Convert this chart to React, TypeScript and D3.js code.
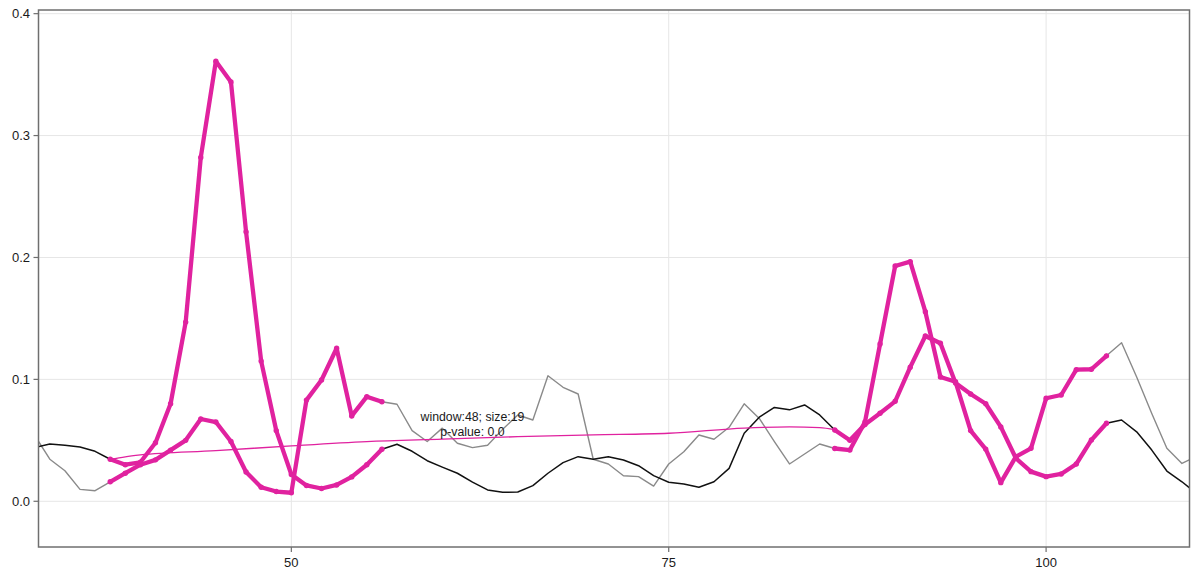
import React, { useEffect, useRef } from 'react';
import * as d3 from 'd3';

// x positions of both series
const steps = d3.range(33, 111);

const blackSeries = [
  0.044, 0.047, 0.046, 0.0445, 0.041, 0.0345, 0.030, 0.032, 0.048, 0.080,
  0.147, 0.282, 0.361, 0.344, 0.221, 0.115, 0.058, 0.022, 0.013, 0.0105,
  0.0134, 0.020, 0.030, 0.0427, 0.0468, 0.041, 0.0333, 0.028, 0.023, 0.0157,
  0.0093, 0.0074, 0.0076, 0.0128, 0.023, 0.0317, 0.0366, 0.0345, 0.0366, 0.0339,
  0.0292, 0.021, 0.0156, 0.0142, 0.0115, 0.016, 0.027, 0.0558, 0.069, 0.077,
  0.075, 0.079, 0.0708, 0.0585, 0.050, 0.063, 0.0722, 0.082, 0.110, 0.1356,
  0.1296, 0.097, 0.088, 0.080, 0.061, 0.0353, 0.0243, 0.0202, 0.0224, 0.0306,
  0.0503, 0.064, 0.0667, 0.057, 0.042, 0.0248, 0.016, 0.006,
];

const graySeries = [
  0.054, 0.0345, 0.025, 0.0098, 0.0087, 0.016, 0.023, 0.030, 0.034, 0.042,
  0.050, 0.0675, 0.065, 0.049, 0.024, 0.0115, 0.008, 0.007, 0.083, 0.0995,
  0.1255, 0.070, 0.0858, 0.0817, 0.0796, 0.058, 0.049, 0.060, 0.0476, 0.044,
  0.046, 0.059, 0.0708, 0.0667, 0.103, 0.0935, 0.088, 0.0345, 0.0306, 0.021,
  0.0202, 0.0125, 0.0306, 0.0407, 0.0544, 0.0509, 0.0607, 0.080, 0.068, 0.049,
  0.0306, 0.0388, 0.047, 0.0433, 0.042, 0.065, 0.129, 0.193, 0.1966, 0.1555,
  0.102, 0.098, 0.058, 0.0428, 0.0153, 0.0366, 0.0435, 0.0845, 0.0872, 0.108,
  0.1083, 0.1193, 0.130, 0.102, 0.072, 0.0435, 0.031, 0.037,
];

// highlighted windows
const windowStarts = [38, 86];
const windowSize = 19;

// thin connector between the two windows
const linkX = [38, 39, 40, 45, 50, 55, 60, 65, 70, 75, 80, 83, 85, 86];
const linkY = [0.0345, 0.0365, 0.038, 0.0415, 0.0455, 0.049, 0.051, 0.053, 0.0545, 0.0558, 0.060, 0.061, 0.0605, 0.0588];

const annotation = ['window:48; size:19', 'p-value: 0.0'];

const xTicks = [50, 75, 100];
const yTicks = [0, 0.1, 0.2, 0.3, 0.4];

const W = 1200;
const H = 576;
const margin = { top: 10, right: 10.5, bottom: 29, left: 38.5 };

export default function App() {
  const ref = useRef<SVGSVGElement>(null);

  useEffect(() => {
    if (!ref.current) return;
    const svg = d3.select(ref.current);
    svg.selectAll('*').remove();

    const x = d3.scaleLinear().domain([33.25, 109.5]).range([margin.left, W - margin.right]);
    const y = d3.scaleLinear().domain([-0.0375, 0.403]).range([H - margin.bottom, margin.top]);
    const [x0, x1] = x.range();
    const [y0, y1] = y.range();

    svg.append('defs').append('clipPath').attr('id', 'plot-clip')
      .append('rect').attr('x', x0).attr('y', y1).attr('width', x1 - x0).attr('height', y0 - y1);

    // grid
    const grid = svg.append('g').attr('stroke', '#e6e6e6').attr('stroke-width', 1);
    xTicks.forEach(t => {
      grid.append('line').attr('x1', x(t)).attr('x2', x(t)).attr('y1', y1).attr('y2', y0);
    });
    yTicks.forEach(t => {
      grid.append('line').attr('x1', x0).attr('x2', x1).attr('y1', y(t)).attr('y2', y(t));
    });

    const plot = svg.append('g').attr('clip-path', 'url(#plot-clip)');
    const line = d3.line<[number, number]>().x(d => x(d[0])).y(d => y(d[1]));

    const blackPts = steps.map((s, i) => [s, blackSeries[i]] as [number, number]);
    const grayPts = steps.map((s, i) => [s, graySeries[i]] as [number, number]);

    plot.append('path').attr('d', line(grayPts)).attr('fill', 'none')
      .attr('stroke', '#8a8a8a').attr('stroke-width', 1.4).attr('stroke-linejoin', 'round');
    plot.append('path').attr('d', line(blackPts)).attr('fill', 'none')
      .attr('stroke', '#111').attr('stroke-width', 1.5).attr('stroke-linejoin', 'round');

    // connector
    const magenta = '#e0229f';
    const link = d3.line<number>().x(d => x(d)).y((_, i) => y(linkY[i])).curve(d3.curveMonotoneX);
    plot.append('path').attr('d', link(linkX)).attr('fill', 'none')
      .attr('stroke', magenta).attr('stroke-width', 1.3);

    // highlighted windows
    windowStarts.forEach(start => {
      [blackPts, grayPts].forEach(pts => {
        const seg = pts.filter(p => p[0] >= start && p[0] < start + windowSize);
        plot.append('path').attr('d', line(seg)).attr('fill', 'none')
          .attr('stroke', magenta).attr('stroke-width', 4.3)
          .attr('stroke-linejoin', 'round').attr('stroke-linecap', 'round');
        plot.selectAll(null).data(seg).enter().append('circle')
          .attr('cx', d => x(d[0])).attr('cy', d => y(d[1])).attr('r', 2.7)
          .attr('fill', magenta);
      });
    });

    const font = '"Liberation Sans", Arial, sans-serif';

    // annotation
    const midX = (windowStarts[0] + windowStarts[1]) / 2;
    const txt = svg.append('text')
      .attr('x', x(midX)).attr('y', y(0.0655))
      .attr('text-anchor', 'middle')
      .attr('font-family', font)
      .attr('font-size', 12.3).attr('fill', '#1a1a1a');
    annotation.forEach((t, i) => {
      txt.append('tspan').attr('x', x(midX)).attr('dy', i === 0 ? 0 : 14.5).text(t);
    });

    // frame
    svg.append('rect').attr('x', x0).attr('y', y1).attr('width', x1 - x0).attr('height', y0 - y1)
      .attr('fill', 'none').attr('stroke', '#6f6f6f').attr('stroke-width', 1.5);

    // y ticks
    yTicks.forEach(t => {
      svg.append('line').attr('x1', x0 - 5).attr('x2', x0).attr('y1', y(t)).attr('y2', y(t))
        .attr('stroke', '#6f6f6f').attr('stroke-width', 1.2);
      svg.append('text').attr('x', x0 - 8.5).attr('y', y(t)).attr('dy', '0.35em')
        .attr('text-anchor', 'end').attr('font-family', font).attr('font-size', 13)
        .attr('fill', '#1a1a1a').text(d3.format('.1f')(t));
    });
    // x ticks
    xTicks.forEach(t => {
      svg.append('line').attr('x1', x(t)).attr('x2', x(t)).attr('y1', y0).attr('y2', y0 + 5)
        .attr('stroke', '#6f6f6f').attr('stroke-width', 1.2);
      svg.append('text').attr('x', x(t)).attr('y', y0 + 20)
        .attr('text-anchor', 'middle').attr('font-family', font).attr('font-size', 13)
        .attr('fill', '#1a1a1a').text(String(t));
    });
  }, []);

  return (
    <svg
      ref={ref}
      width={W}
      height={H}
      style={{ position: 'absolute', left: 0, top: 0, background: '#fff' }}
    />
  );
}
